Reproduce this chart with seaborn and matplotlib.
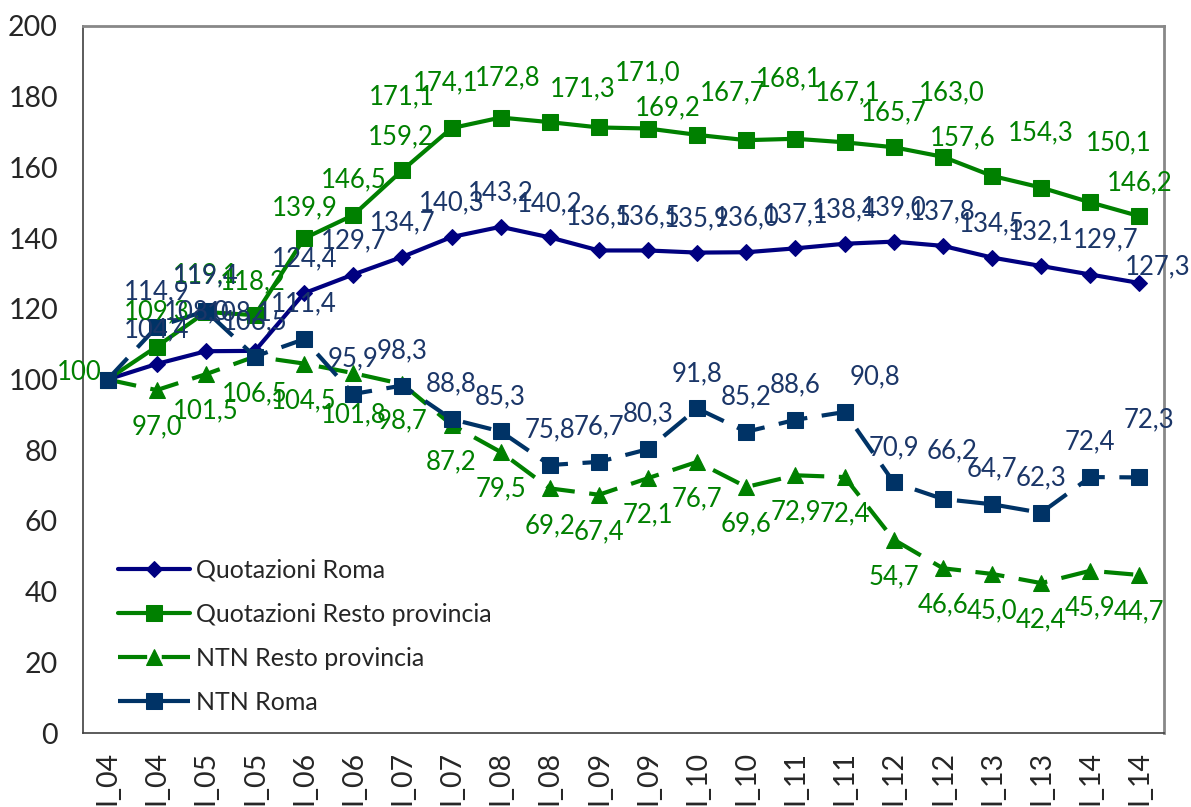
import matplotlib
matplotlib.use("Agg")
import matplotlib.pyplot as plt
import numpy as np
import pandas as pd
import seaborn as sns

# periods (semesters, labels as shown on the chart)
periods = ['I_04', 'I_04', 'I_05', 'I_05', 'I_06', 'I_06', 'I_07', 'I_07', 'I_08', 'I_08', 'I_09',
           'I_09', 'I_10', 'I_10', 'I_11', 'I_11', 'I_12', 'I_12', 'I_13', 'I_13', 'I_14', 'I_14']

quot_roma = [100, 104.4, 108.0, 108.1, 124.4, 129.7, 134.7, 140.3, 143.2, 140.2, 136.5,
             136.5, 135.9, 136.0, 137.1, 138.4, 139.0, 137.8, 134.5, 132.1, 129.7, 127.3]
quot_resto = [100, 109.3, 119.1, 118.2, 139.9, 146.5, 159.2, 171.1, 174.1, 172.8, 171.3,
              171.0, 169.2, 167.7, 168.1, 167.1, 165.7, 163.0, 157.6, 154.3, 150.1, 146.2]
ntn_resto = [100, 97.0, 101.5, 106.5, 104.5, 101.8, 98.7, 87.2, 79.5, 69.2, 67.4,
             72.1, 76.7, 69.6, 72.9, 72.4, 54.7, 46.6, 45.0, 42.4, 45.9, 44.7]
ntn_roma = [100, 114.9, 119.4, 106.5, 111.4, 95.9, 98.3, 88.8, 85.3, 75.8, 76.7,
            80.3, 91.8, 85.2, 88.6, 90.8, 70.9, 66.2, 64.7, 62.3, 72.4, 72.3]

series_names = ['Quotazioni Roma', 'Quotazioni Resto provincia', 'NTN Resto provincia', 'NTN Roma']

# label offsets in pixels (dx, dy) - placement of the data labels
off_resto = [(-28, 7), (0, 35), (0, 37), (-2, 33), (1, 31), (0, 35), (-2, 33), (-50, 31), (-55, 35),
             (-42, 44), (-16, 39), (0, 56), (-29, 27), (-14, 47), (-7, 60), (3, 49), (0, 34),
             (9, 64), (-29, 38), (0, 55), (28, 60), (0, 33)]
off_roma = [(0, 34)] * 22
off_roma[2] = (-9, 39)
off_roma[3] = (-15, 38)
off_roma[20] = (15, 35)
off_roma[21] = (18, 16)
off_ntn_roma = [(0, 35)] * 22
off_ntn_roma[15] = (30, 35)
off_ntn_roma[17] = (9, 48)
off_ntn_roma[21] = (10, 58)
off_ntn_resto = [(0, -37)] * 22
off_ntn_resto[5] = (0, -42)

sns.set_style("white")
plt.rcParams['font.family'] = ['Lato', 'DejaVu Sans']

fig = plt.figure(figsize=(11.91, 8.07), dpi=100)
ax = fig.add_axes([83 / 1191, (807 - 733) / 807, (1164 - 83) / 1191, (733 - 26) / 807])

x = np.arange(len(periods))
green = '#008000'
navy = '#000080'
ntn_blue = '#003366'
lab_blue = '#1b3668'
dash = (0, (7, 3.5))
lab_size = 18.5

sns.lineplot(x=x, y=quot_roma, ax=ax, color=navy, lw=3, marker='D', markersize=8,
             markeredgecolor=navy, label=series_names[0])
sns.lineplot(x=x, y=quot_resto, ax=ax, color=green, lw=3, marker='s', markersize=12,
             markeredgecolor=green, label=series_names[1])
sns.lineplot(x=x, y=ntn_resto, ax=ax, color=green, lw=3, marker='^', markersize=11,
             markeredgecolor=green, linestyle=dash, label=series_names[2])
sns.lineplot(x=x, y=ntn_roma, ax=ax, color=ntn_blue, lw=3, marker='s', markersize=11,
             markeredgecolor=ntn_blue, linestyle=dash, label=series_names[3])


def fmt(v):
    return f"{v:.1f}".replace('.', ',')


for k in range(len(x)):
    if k == 0:
        ax.annotate("100", (x[k], quot_resto[k]), xytext=off_resto[k], textcoords='offset pixels',
                    ha='center', va='center', fontsize=lab_size, color=green)
        continue
    ax.annotate(fmt(quot_roma[k]), (x[k], quot_roma[k]), xytext=off_roma[k], textcoords='offset pixels',
                ha='center', va='center', fontsize=lab_size, color=lab_blue)
    ax.annotate(fmt(quot_resto[k]), (x[k], quot_resto[k]), xytext=off_resto[k], textcoords='offset pixels',
                ha='center', va='center', fontsize=lab_size, color=green)
    ax.annotate(fmt(ntn_resto[k]), (x[k], ntn_resto[k]), xytext=off_ntn_resto[k], textcoords='offset pixels',
                ha='center', va='center', fontsize=lab_size, color=green)
    ax.annotate(fmt(ntn_roma[k]), (x[k], ntn_roma[k]), xytext=off_ntn_roma[k], textcoords='offset pixels',
                ha='center', va='center', fontsize=lab_size, color=lab_blue)

ax.set_xlim(-0.5, len(x) - 0.5)
ax.set_ylim(0, 200)
ax.set_yticks(np.arange(0, 201, 20))
ax.set_xticks(x)
ax.set_xticklabels(periods, rotation=90)
ax.set_xticks(np.arange(-0.5, len(x), 1), minor=True)
ax.tick_params(axis='x', which='major', length=0, pad=13, labelsize=20.5)
ax.tick_params(axis='x', which='minor', length=7, width=1, color='#404040', direction='out')
ax.tick_params(axis='y', which='major', length=7, width=1, color='#404040', direction='out',
               pad=11, labelsize=20.5)
ax.set_xlabel('')
ax.set_ylabel('')
ax.grid(False)

for s in ['left', 'bottom']:
    ax.spines[s].set_color('#404040')
    ax.spines[s].set_linewidth(1.2)
for s in ['top', 'right']:
    ax.spines[s].set_color('#888888')
    ax.spines[s].set_linewidth(2)

handles, labels = ax.get_legend_handles_labels()
ax.legend(handles, labels, loc='upper left', bbox_to_anchor=(0.032, 0.247), frameon=False,
          fontsize=18, handlelength=2.9, handletextpad=0.25, labelspacing=0.85,
          borderpad=0, borderaxespad=0)

fig.savefig('out.png', dpi=100)
